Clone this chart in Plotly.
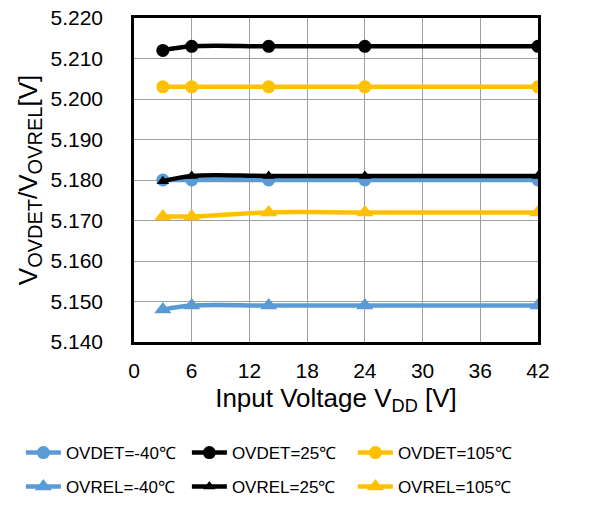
import plotly.graph_objects as go

vdd = [3, 6, 14, 24, 42]
ovdet_m40 = [5.180, 5.180, 5.180, 5.180, 5.180]
ovdet_25 = [5.212, 5.213, 5.213, 5.213, 5.213]
ovdet_105 = [5.203, 5.203, 5.203, 5.203, 5.203]
ovrel_m40 = [5.148, 5.149, 5.149, 5.149, 5.149]
ovrel_25 = [5.1797, 5.181, 5.181, 5.181, 5.181]
ovrel_105 = [5.171, 5.171, 5.172, 5.172, 5.172]

names = ["OVDET=-40℃", "OVDET=25℃", "OVDET=105℃", "OVREL=-40℃", "OVREL=25℃", "OVREL=105℃"]
series = [ovdet_m40, ovdet_25, ovdet_105, ovrel_m40, ovrel_25, ovrel_105]
colors = ["#5B9BD5", "#000000", "#FFC000", "#5B9BD5", "#000000", "#FFC000"]
symbols = ["circle", "circle", "circle", "triangle-up", "triangle-up", "triangle-up"]
sizes = [13, 13, 13, 15, 11, 15]
legends = ["legend", "legend", "legend", "legend2", "legend2", "legend2"]

fig = go.Figure()
for n, s, c, sym, sz, lg in zip(names, series, colors, symbols, sizes, legends):
    fig.add_trace(go.Scatter(
        x=vdd, y=s, name=n, mode="lines+markers", legend=lg,
        line=dict(color=c, width=4.5, shape="spline"),
        marker=dict(color=c, symbol=sym, size=sz),
    ))

leg_common = dict(orientation="h", x=-0.28, xanchor="left", yanchor="middle",
                  entrywidth=116, entrywidthmode="pixels",
                  font=dict(size=17), itemwidth=35, bgcolor="rgba(0,0,0,0)")

fig.update_layout(
    width=589, height=517,
    margin=dict(l=134, r=51, t=18, b=175, autoexpand=False),
    paper_bgcolor="white", plot_bgcolor="white",
    font=dict(family="Liberation Sans, Arial, sans-serif", color="black"),
    legend=dict(y=-0.3426, **leg_common),
    legend2=dict(y=-0.4475, **leg_common),
)
fig.update_xaxes(
    range=[0, 42], tickmode="array", tickvals=[0, 6, 12, 18, 24, 30, 36, 42],
    showgrid=True, gridcolor="#A0A0A0", gridwidth=1.3,
    showline=True, linecolor="black", linewidth=2.5, mirror=True,
    ticks="", tickfont=dict(size=21), ticklabelstandoff=8,
    title=dict(text="Input Voltage V<sub>DD</sub> [V]", font=dict(size=26), standoff=8),
    zeroline=False, automargin=False,
)
fig.update_yaxes(
    range=[5.140, 5.220], tickmode="array",
    tickvals=[5.14, 5.15, 5.16, 5.17, 5.18, 5.19, 5.20, 5.21, 5.22],
    tickformat=".3f",
    showgrid=True, gridcolor="#A0A0A0", gridwidth=1.3,
    showline=True, linecolor="black", linewidth=2.5, mirror=True,
    ticks="", tickfont=dict(size=21), ticklabelstandoff=24,
    title=dict(text="V<sub><span style='font-size:20px'>OVDET</span></sub>/V<sub><span style='font-size:20px'>OVREL</span></sub>[V]",
               font=dict(size=26), standoff=6),
    zeroline=False, automargin=False,
)
fig.write_html("out.html", config={"displayModeBar": False},
               post_script="document.body.style.margin='0';")
